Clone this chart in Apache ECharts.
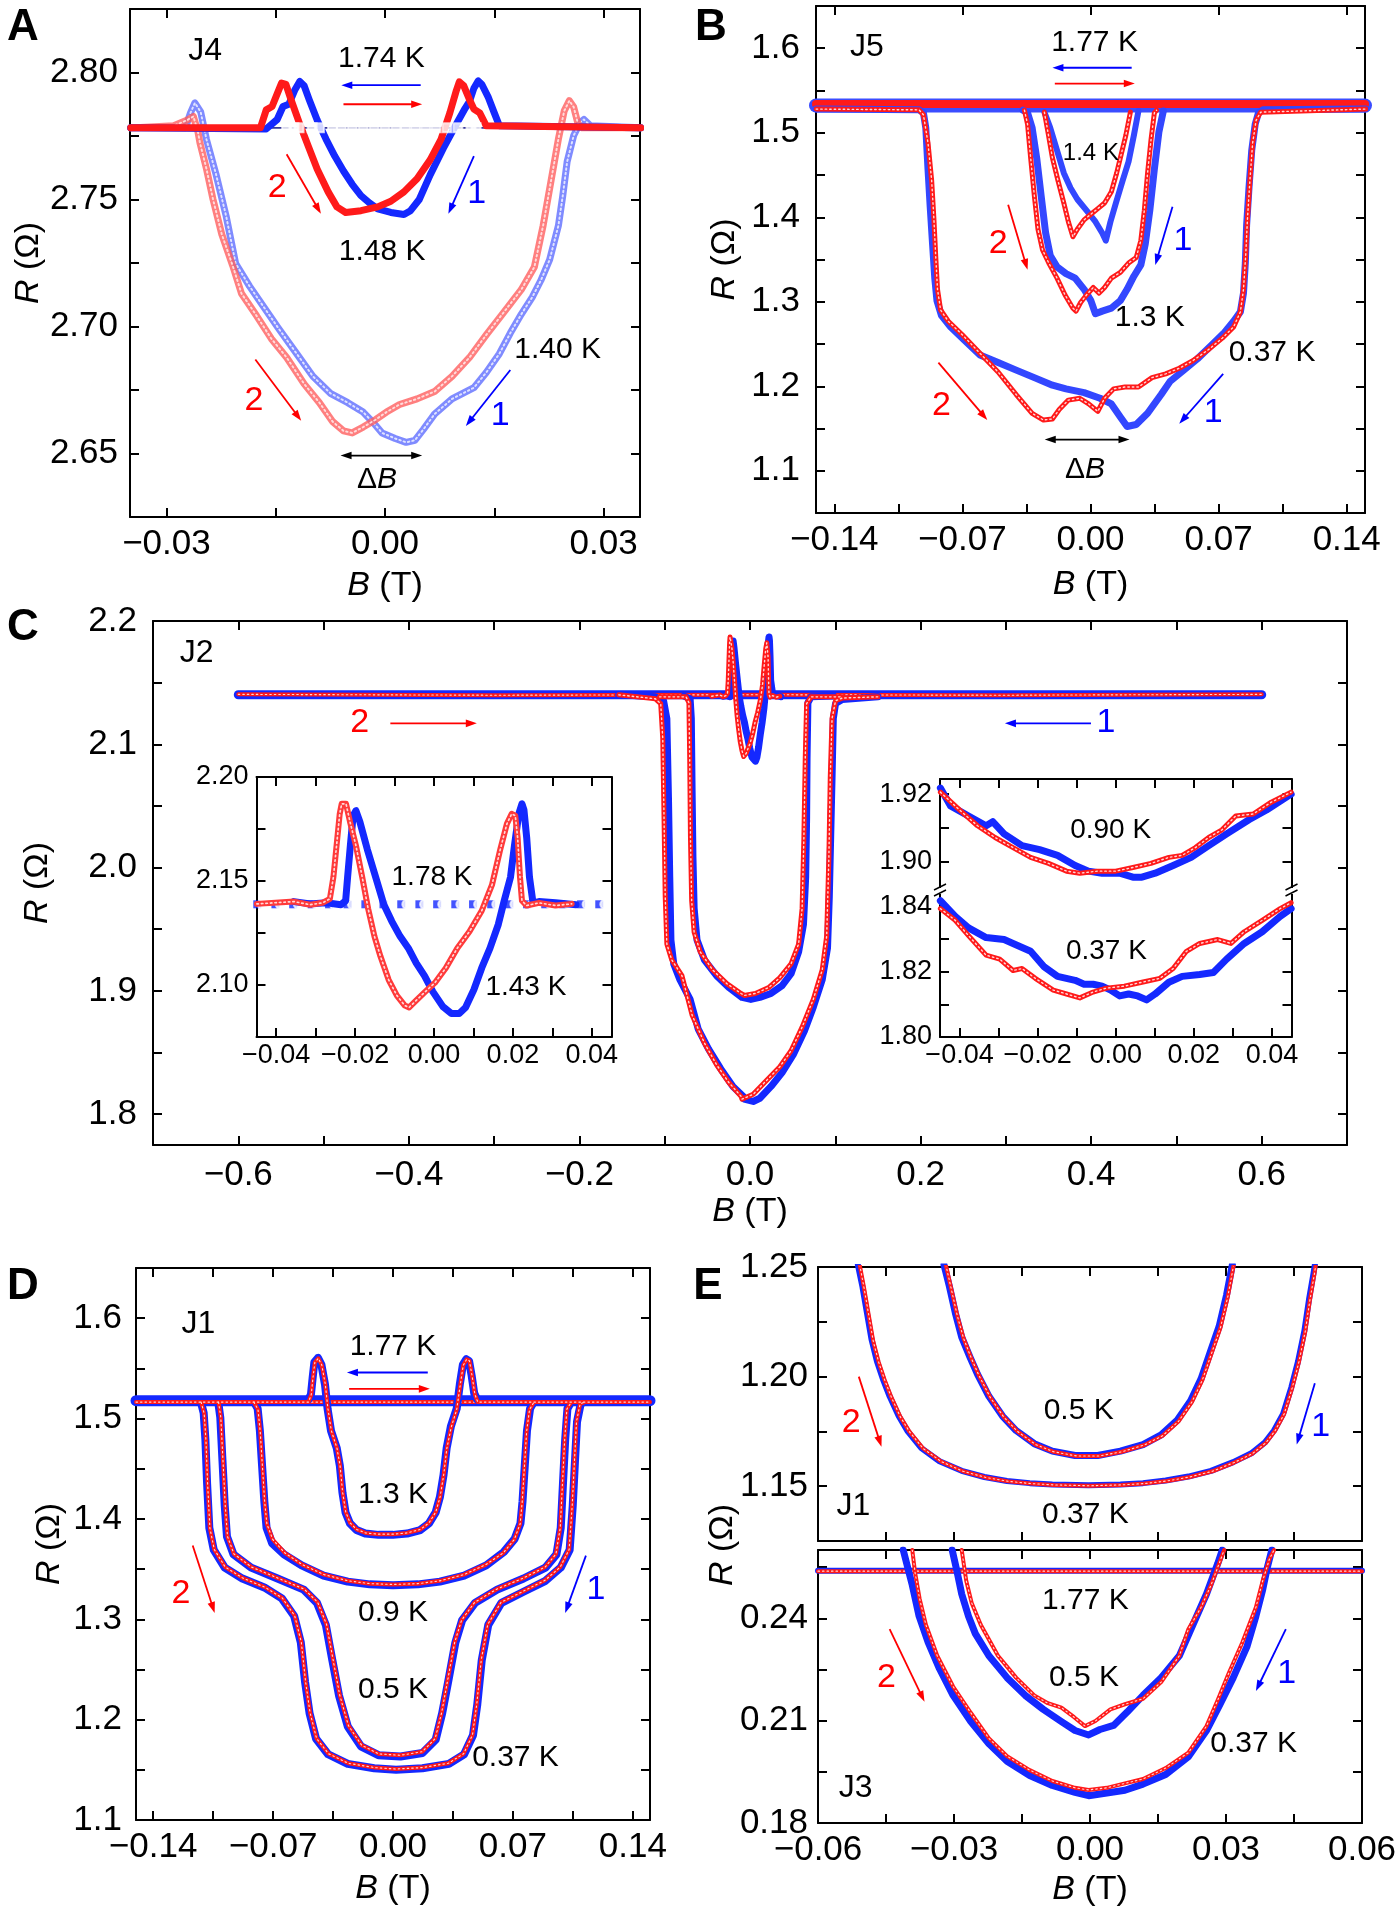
<!DOCTYPE html>
<html><head><meta charset="utf-8">
<script src="https://cdn.jsdelivr.net/npm/echarts@6.0.0/dist/echarts.min.js"></script>
<style>html,body{margin:0;padding:0;background:#fff;}#chart{width:1400px;height:1910px;}</style>
</head><body><div id="chart"></div>
<script>
// ---------------- tick values ----------------
const A_xTicks=[-0.03,-0.015,0,0.015,0.03], A_xLabels=[-0.03,0,0.03];
const A_yTicks=[2.65,2.675,2.7,2.725,2.75,2.775,2.8], A_yLabels=[2.65,2.7,2.75,2.8];
const B_xTicks=[-0.14,-0.105,-0.07,-0.035,0,0.035,0.07,0.105,0.14], B_xTopTicks=[-0.14,-0.07,0,0.07,0.14], B_xLabels=[-0.14,-0.07,0,0.07,0.14];
const B_yTicks=[1.1,1.15,1.2,1.25,1.3,1.35,1.4,1.45,1.5,1.55,1.6], B_yLabels=[1.1,1.2,1.3,1.4,1.5,1.6];
const C_xTicks=[-0.6,-0.5,-0.4,-0.3,-0.2,-0.1,0,0.1,0.2,0.3,0.4,0.5,0.6], C_xLabels=[-0.6,-0.4,-0.2,0,0.2,0.4,0.6];
const C_yTicks=[1.8,1.85,1.9,1.95,2.0,2.05,2.1,2.15,2.2], C_yLabels=[1.8,1.9,2.0,2.1,2.2];
const CI_xTicks=[-0.04,-0.03,-0.02,-0.01,0,0.01,0.02,0.03,0.04], CI_xLabels=[-0.04,-0.02,0,0.02,0.04];
const CL_yTicks=[2.1,2.125,2.15,2.175,2.2], CL_yLabels=[2.1,2.15,2.2];
const CRU_yTicks=[1.9,1.91,1.92], CRU_yLabels=[1.9,1.92];
const CRL_yTicks=[1.8,1.81,1.82,1.83,1.84], CRL_yLabels=[1.8,1.82,1.84];
const D_xTicks=[-0.14,-0.105,-0.07,-0.035,0,0.035,0.07,0.105,0.14], D_xLabels=[-0.14,-0.07,0,0.07,0.14];
const D_yTicks=[1.1,1.15,1.2,1.25,1.3,1.35,1.4,1.45,1.5,1.55,1.6], D_yLabels=[1.1,1.2,1.3,1.4,1.5,1.6];
const E_xTicks=[-0.045,-0.03,-0.015,0,0.015,0.03,0.045], E_xLabels=[-0.06,-0.03,0,0.03,0.06];
const ET_yTicks=[1.15,1.175,1.2,1.225], ET_yLabels=[1.15,1.2,1.25];
const EB_yTicks=[0.195,0.21,0.225,0.24,0.255], EB_yLabels=[0.18,0.21,0.24];

// ---------------- data: panel A (J4) ----------------
const A_base174=[[-0.035,2.7782],[0.035,2.7782]];
const A_mark174_blue=[-0.0135,-0.0118,-0.009,-0.006,-0.003,0.0,0.0028,0.0056,0.0085,0.0118];
const A_mark174_red=[-0.0125,-0.01,-0.0072,-0.0045,-0.0015,0.0015,0.0042,0.007,0.01,0.0125];
const A_b148=[[0.0351,2.7782],[0.0157,2.779],[0.015,2.7841],[0.0142,2.7901],[0.0133,2.7953],[0.0128,2.7967],[0.0122,2.7938],[0.0116,2.7886],[0.011,2.7859],[0.0098,2.7797],[0.008,2.7701],[0.0062,2.7597],[0.0047,2.75],[0.0035,2.7456],[0.0026,2.7441],[0.0008,2.7449],[-0.001,2.7463],[-0.0021,2.7486],[-0.0033,2.7515],[-0.0045,2.756],[-0.0057,2.7612],[-0.0069,2.7671],[-0.0081,2.7738],[-0.0093,2.7812],[-0.0104,2.7893],[-0.0111,2.7948],[-0.0117,2.7965],[-0.0124,2.793],[-0.0132,2.7875],[-0.014,2.7866],[-0.0148,2.7815],[-0.0163,2.7778],[-0.0349,2.7782]];
const A_r148=[[-0.0349,2.7782],[-0.0171,2.7782],[-0.0163,2.7853],[-0.0155,2.7866],[-0.0148,2.7916],[-0.0142,2.7958],[-0.0136,2.7953],[-0.0129,2.7893],[-0.0117,2.7797],[-0.0105,2.7708],[-0.0093,2.7619],[-0.0078,2.753],[-0.0066,2.7471],[-0.0054,2.7449],[-0.0033,2.7456],[-0.001,2.7471],[0.0008,2.7493],[0.0026,2.753],[0.0044,2.7582],[0.0062,2.7656],[0.0077,2.7738],[0.0089,2.7841],[0.0098,2.793],[0.0102,2.7963],[0.0108,2.7948],[0.0116,2.7893],[0.0122,2.7856],[0.013,2.7841],[0.0139,2.779],[0.0351,2.7782]];
const A_b140=[[0.0351,2.7782],[0.0282,2.779],[0.0273,2.7815],[0.0268,2.7804],[0.0259,2.7752],[0.025,2.7649],[0.0244,2.7515],[0.0238,2.7397],[0.0226,2.7263],[0.0214,2.7182],[0.0202,2.7115],[0.0187,2.7048],[0.0172,2.6974],[0.0157,2.6893],[0.0139,2.6819],[0.0122,2.6759],[0.0092,2.6715],[0.0068,2.6655],[0.0053,2.6596],[0.0041,2.6552],[0.0029,2.6544],[0.0014,2.6559],[-0.0004,2.6581],[-0.0015,2.6618],[-0.003,2.6663],[-0.0051,2.67],[-0.0075,2.6737],[-0.0099,2.6804],[-0.0123,2.69],[-0.0147,2.6996],[-0.0172,2.71],[-0.0186,2.7159],[-0.0205,2.7248],[-0.0218,2.7434],[-0.0232,2.76],[-0.0245,2.7736],[-0.0253,2.7845],[-0.0261,2.788],[-0.0267,2.7841],[-0.0274,2.7782],[-0.0349,2.7782]];
const A_r140=[[-0.0349,2.7782],[-0.029,2.779],[-0.0272,2.7812],[-0.0263,2.7827],[-0.0257,2.777],[-0.0254,2.7723],[-0.0245,2.762],[-0.0236,2.75],[-0.0224,2.7363],[-0.0209,2.7239],[-0.0197,2.713],[-0.0176,2.7041],[-0.0156,2.6952],[-0.0135,2.6878],[-0.0111,2.6774],[-0.009,2.67],[-0.0072,2.6626],[-0.0057,2.6589],[-0.0045,2.6581],[-0.003,2.6604],[-0.0013,2.6633],[0.0002,2.6663],[0.002,2.6693],[0.0044,2.6715],[0.0068,2.6744],[0.0092,2.6804],[0.0116,2.6878],[0.0139,2.6967],[0.0163,2.7056],[0.0187,2.7145],[0.0205,2.7234],[0.0217,2.7397],[0.0228,2.7575],[0.0238,2.7738],[0.0246,2.7849],[0.0253,2.7889],[0.0259,2.7864],[0.0265,2.7797],[0.0271,2.7782],[0.0351,2.7782]];

// ---------------- data: panel B (J5) ----------------
const B_baseBlue=[[-0.15,1.5323],[0.15,1.5323]];
const B_baseRed=[[-0.15,1.534],[0.15,1.534]];
const B_b037=[[0.1504,1.528],[0.0942,1.5271],[0.0918,1.5236],[0.09,1.5102],[0.0881,1.4791],[0.0866,1.4347],[0.0853,1.3902],[0.0846,1.3458],[0.0836,1.3102],[0.0819,1.288],[0.0782,1.2769],[0.0732,1.2636],[0.0658,1.248],[0.0584,1.2324],[0.051,1.2191],[0.0435,1.2058],[0.0386,1.1902],[0.0312,1.168],[0.025,1.1547],[0.02,1.1524],[0.0163,1.1636],[0.0114,1.1791],[0.0052,1.1858],[-0.0035,1.1924],[-0.0134,1.1969],[-0.0208,1.2013],[-0.0307,1.2102],[-0.0406,1.2191],[-0.0505,1.228],[-0.0604,1.2369],[-0.069,1.2547],[-0.0764,1.2702],[-0.0814,1.2836],[-0.0839,1.3013],[-0.0851,1.328],[-0.0863,1.368],[-0.0876,1.4124],[-0.0888,1.4569],[-0.09,1.5058],[-0.0913,1.5236],[-0.0937,1.5271],[-0.1499,1.528]];
const B_r037=[[-0.1499,1.528],[-0.0937,1.5271],[-0.0913,1.5213],[-0.0888,1.488],[-0.0868,1.4436],[-0.0856,1.3991],[-0.0846,1.3547],[-0.0836,1.3147],[-0.0819,1.2902],[-0.0777,1.2769],[-0.0702,1.2613],[-0.0604,1.2391],[-0.0505,1.2169],[-0.0406,1.1902],[-0.0319,1.168],[-0.0257,1.16],[-0.0208,1.1613],[-0.0171,1.1724],[-0.0121,1.1836],[-0.0059,1.1858],[-0.001,1.1791],[0.004,1.1702],[0.0077,1.1858],[0.0126,1.1969],[0.0188,1.1991],[0.0262,1.1991],[0.0336,1.2102],[0.0411,1.2147],[0.0485,1.2213],[0.0559,1.2302],[0.0646,1.2436],[0.072,1.2569],[0.0782,1.2702],[0.0819,1.288],[0.0836,1.3147],[0.0848,1.3547],[0.0858,1.3991],[0.0871,1.4436],[0.0886,1.488],[0.0905,1.5147],[0.093,1.5244],[0.1504,1.528]];
const B_b13=[[0.0398,1.5258],[0.0374,1.5013],[0.0349,1.4569],[0.0324,1.408],[0.0299,1.368],[0.0275,1.3436],[0.0237,1.3302],[0.02,1.3147],[0.0163,1.3013],[0.0114,1.2924],[0.0064,1.2889],[0.0027,1.2858],[0.0002,1.3013],[-0.0035,1.3147],[-0.0084,1.328],[-0.0134,1.3333],[-0.0183,1.3413],[-0.022,1.3547],[-0.0245,1.3813],[-0.027,1.4258],[-0.0294,1.4702],[-0.0319,1.5058],[-0.0344,1.5236],[-0.0369,1.5267]];
const B_r13=[[-0.0361,1.5267],[-0.0344,1.5102],[-0.0327,1.4702],[-0.0307,1.4258],[-0.0287,1.3858],[-0.0262,1.3613],[-0.0228,1.3458],[-0.0183,1.328],[-0.0139,1.308],[-0.0096,1.2924],[-0.0079,1.2889],[-0.0054,1.2991],[-0.0022,1.308],[0.0015,1.3169],[0.0047,1.3102],[0.0077,1.3169],[0.0114,1.328],[0.0163,1.3347],[0.0208,1.3458],[0.025,1.3524],[0.0275,1.3724],[0.0294,1.408],[0.0312,1.4524],[0.0331,1.4924],[0.0349,1.5236],[0.0361,1.5267]];
const B_b14=[[0.0262,1.5258],[0.0237,1.4969],[0.0208,1.4658],[0.0176,1.4436],[0.0139,1.4169],[0.0109,1.3947],[0.0084,1.3724],[0.0064,1.3813],[0.0027,1.3947],[-0.0022,1.408],[-0.0072,1.4213],[-0.0109,1.4347],[-0.0146,1.4524],[-0.0183,1.4791],[-0.022,1.5058],[-0.0252,1.5244]];
const B_r14=[[-0.0252,1.5244],[-0.0233,1.5013],[-0.0208,1.4702],[-0.0178,1.4436],[-0.0146,1.4169],[-0.0121,1.3947],[-0.0096,1.3769],[-0.0072,1.3858],[-0.0035,1.3969],[0.0002,1.4036],[0.004,1.4102],[0.0077,1.4169],[0.0114,1.4302],[0.0143,1.4524],[0.0168,1.4747],[0.0193,1.4969],[0.0218,1.5244]];

// ---------------- data: panel C (J2) ----------------
const C_baseBlue=[[-0.6,2.1402],[0.6,2.1402]];
const C_baseRed=[[-0.6,2.1405],[-0.3,2.1398],[0.0,2.1402],[0.3,2.1398],[0.6,2.1405]];
const C_b037=[[0.15,2.1385],[0.1082,2.1363],[0.1003,2.133],[0.0977,2.1209],[0.0962,2.0727],[0.0946,2.0246],[0.093,1.9765],[0.0909,1.9348],[0.0847,1.9091],[0.0742,1.8867],[0.0638,1.8674],[0.0507,1.8482],[0.0376,1.8337],[0.0246,1.8225],[0.0115,1.8129],[0.0037,1.8103],[-0.0068,1.8122],[-0.0081,1.8145],[-0.02,1.8225],[-0.0344,1.8369],[-0.0487,1.853],[-0.0607,1.869],[-0.0702,1.8931],[-0.0822,1.9091],[-0.0894,1.9219],[-0.0927,1.9412],[-0.0941,1.9925],[-0.0956,2.0567],[-0.0975,2.1209],[-0.1013,2.1353],[-0.1109,2.1385],[-0.1539,2.1401]];
const C_r037=[[-0.1539,2.1401],[-0.1109,2.1369],[-0.1047,2.133],[-0.1023,2.1048],[-0.1008,2.0406],[-0.0994,1.9765],[-0.0975,1.938],[-0.0918,1.9252],[-0.0798,1.9123],[-0.0678,1.8802],[-0.0535,1.8578],[-0.0392,1.8401],[-0.0248,1.8257],[-0.0105,1.8145],[-0.0094,1.8122],[0.0037,1.8161],[0.0193,1.8273],[0.035,1.8385],[0.0481,1.8514],[0.0611,1.8706],[0.0742,1.8931],[0.0847,1.9171],[0.0899,1.9444],[0.0925,2.0086],[0.0941,2.0727],[0.0962,2.1209],[0.1003,2.1353],[0.1082,2.1375],[0.15,2.1385]];
const C_b09=[[0.0977,2.1391],[0.0716,2.1385],[0.0679,2.1337],[0.0669,2.0888],[0.0664,2.0406],[0.0653,1.9925],[0.0627,1.954],[0.057,1.9316],[0.0481,1.9139],[0.0376,1.9043],[0.0246,1.8979],[0.0115,1.8947],[0.001,1.8931],[-0.0094,1.8947],[-0.0105,1.8963],[-0.0248,1.9027],[-0.0392,1.9123],[-0.0535,1.9252],[-0.0621,1.9412],[-0.0655,1.9669],[-0.0669,2.0086],[-0.0679,2.0631],[-0.0688,2.1209],[-0.0702,2.1369],[-0.0774,2.1391]];
const C_r09=[[-0.1061,2.1385],[-0.075,2.1385],[-0.0716,2.1337],[-0.0707,2.0888],[-0.0698,2.0246],[-0.0684,1.9733],[-0.0655,1.9476],[-0.0583,1.9316],[-0.044,1.9171],[-0.0272,1.9059],[-0.0105,1.8979],[-0.0068,1.8963],[0.0063,1.8979],[0.0219,1.9027],[0.035,1.9107],[0.0481,1.9219],[0.057,1.938],[0.0611,1.9669],[0.0632,2.0246],[0.0648,2.0888],[0.0664,2.133],[0.0716,2.1385],[0.1082,2.1385]];
// 1.43 K (shown in main panel and in the left inset)
const C_r143=[[-0.0449,2.139],[-0.0355,2.1401],[-0.0314,2.1386],[-0.0283,2.1395],[-0.0264,2.1414],[-0.0255,2.1519],[-0.0247,2.1671],[-0.0239,2.1823],[-0.0234,2.1871],[-0.0223,2.1871],[-0.0213,2.1785],[-0.0198,2.1671],[-0.0182,2.1519],[-0.0167,2.1367],[-0.0151,2.1234],[-0.0136,2.1139],[-0.0115,2.1025],[-0.0094,2.0949],[-0.0074,2.0901],[-0.0063,2.0892],[-0.0045,2.0926],[-0.0022,2.0968],[0.0002,2.101],[0.003,2.1082],[0.0059,2.1177],[0.009,2.1257],[0.0121,2.1357],[0.0147,2.1481],[0.0168,2.1652],[0.0185,2.1776],[0.0197,2.1823],[0.0206,2.1814],[0.0212,2.1709],[0.0218,2.1519],[0.0223,2.1405],[0.0235,2.1382],[0.0266,2.1395],[0.0308,2.1382],[0.0349,2.139]];
const C_b143=[[0.036,2.1386],[0.0308,2.1395],[0.0266,2.1401],[0.0251,2.1395],[0.0242,2.1519],[0.0235,2.1709],[0.0228,2.1842],[0.0223,2.1871],[0.0215,2.1823],[0.0204,2.1671],[0.0194,2.1519],[0.0178,2.1405],[0.0163,2.1291],[0.0142,2.1177],[0.0121,2.1082],[0.0101,2.0977],[0.008,2.0892],[0.0064,2.0863],[0.0044,2.0863],[0.0023,2.0895],[-0.0003,2.0968],[-0.0024,2.1044],[-0.0045,2.1105],[-0.0065,2.1177],[-0.0086,2.1234],[-0.0107,2.1306],[-0.0127,2.1386],[-0.0148,2.1519],[-0.0169,2.1652],[-0.0188,2.1785],[-0.0198,2.1838],[-0.0205,2.1814],[-0.0212,2.1671],[-0.0219,2.1519],[-0.0224,2.1405],[-0.0236,2.1386],[-0.0273,2.1395],[-0.0314,2.139],[-0.0355,2.1401]];
const CL_mark178_blue=[-0.0448,-0.0402,-0.0357,-0.031,-0.0266,-0.0219,-0.0174,-0.0128,-0.0083,-0.0037,0.0008,0.0054,0.0099,0.0145,0.0191,0.0236,0.0282,0.0328,0.0373,0.0419];
const CL_mark178_red=[-0.0436,-0.039,-0.0344,-0.0298,-0.0253,-0.0207,-0.0161,-0.0115,-0.0069,-0.0024,0.0022,0.0068,0.0113,0.0159,0.0205,0.025,0.0296,0.0342,0.0388,0.0433];
const CL_level178=2.1388;
const CR_b090=[[-0.0449,1.9218],[-0.0423,1.9165],[-0.0377,1.9135],[-0.0332,1.9106],[-0.0315,1.9118],[-0.0286,1.9082],[-0.024,1.9047],[-0.0195,1.9035],[-0.0149,1.9018],[-0.0104,1.8988],[-0.007,1.8971],[-0.0035,1.8965],[0.001,1.8965],[0.0044,1.8953],[0.0067,1.8953],[0.0101,1.8965],[0.0147,1.8988],[0.0193,1.9012],[0.0238,1.9047],[0.0284,1.9082],[0.0341,1.9124],[0.0386,1.9153],[0.0449,1.92]];
const CR_r090=[[-0.0449,1.9206],[-0.04,1.9153],[-0.0354,1.9106],[-0.0309,1.9071],[-0.0263,1.9041],[-0.0218,1.9012],[-0.0172,1.8994],[-0.0126,1.8971],[-0.0092,1.8965],[-0.0047,1.8971],[0.0,1.8971],[0.0044,1.8982],[0.009,1.8994],[0.0136,1.9012],[0.017,1.9018],[0.0204,1.9041],[0.0238,1.9071],[0.0272,1.9094],[0.0307,1.9135],[0.0352,1.9141],[0.0398,1.9176],[0.0449,1.9206]];
const CR_b037=[[-0.0449,1.8418],[-0.0411,1.837],[-0.0377,1.8335],[-0.0332,1.8305],[-0.0286,1.8299],[-0.0263,1.8287],[-0.0218,1.8263],[-0.0183,1.8215],[-0.0149,1.8186],[-0.0104,1.8174],[-0.0081,1.8162],[-0.0058,1.8162],[-0.0035,1.8156],[-0.0013,1.8144],[0.001,1.8126],[0.0033,1.8132],[0.0056,1.8126],[0.0079,1.8114],[0.0101,1.8132],[0.0136,1.8168],[0.017,1.8186],[0.0215,1.8192],[0.025,1.8198],[0.0284,1.8239],[0.0329,1.8287],[0.0375,1.8323],[0.0421,1.837],[0.0449,1.8394]];
const CR_r037=[[-0.0449,1.8394],[-0.0411,1.8358],[-0.0377,1.8311],[-0.0332,1.8251],[-0.0297,1.8239],[-0.0263,1.8204],[-0.024,1.821],[-0.0206,1.818],[-0.016,1.8144],[-0.0126,1.8132],[-0.0092,1.812],[-0.0058,1.8138],[-0.0024,1.815],[0.0022,1.8156],[0.0067,1.8168],[0.0113,1.818],[0.0147,1.821],[0.0181,1.8263],[0.0215,1.8287],[0.0261,1.8299],[0.0295,1.8287],[0.0329,1.8323],[0.0375,1.8358],[0.0421,1.8394],[0.0449,1.8412]];

// ---------------- data: panel D (J1) ----------------
const D_baseBlue=[[-0.15,1.5178],[0.15,1.5178]];
const D_baseRed=[[-0.15,1.5164],[0.15,1.5164]];
const D_b13=[[0.15,1.5186],[0.0492,1.5186],[0.0474,1.5252],[0.0459,1.5428],[0.0444,1.5573],[0.0428,1.5591],[0.0408,1.5538],[0.039,1.534],[0.0372,1.5099],[0.0338,1.4923],[0.0313,1.4703],[0.0295,1.4439],[0.0274,1.4219],[0.0249,1.4065],[0.021,1.3955],[0.0159,1.3889],[0.0082,1.3854],[0.0,1.3841],[-0.0085,1.3841],[-0.0162,1.3854],[-0.0213,1.3889],[-0.0251,1.3955],[-0.0277,1.4065],[-0.0295,1.4263],[-0.031,1.4527],[-0.0328,1.4703],[-0.0362,1.4879],[-0.0382,1.5099],[-0.0397,1.534],[-0.0418,1.5538],[-0.0438,1.5604],[-0.0459,1.556],[-0.0469,1.5406],[-0.0479,1.5239],[-0.0495,1.5186],[-0.15,1.5186]];
const D_r13=[[-0.15,1.5164],[-0.0493,1.5164],[-0.0477,1.524],[-0.0467,1.541],[-0.0456,1.556],[-0.0436,1.56],[-0.0416,1.5535],[-0.0395,1.534],[-0.038,1.51],[-0.036,1.488],[-0.0327,1.4705],[-0.0309,1.453],[-0.0294,1.4265],[-0.0276,1.407],[-0.025,1.396],[-0.0212,1.3895],[-0.016,1.386],[-0.0085,1.3848],[0.0,1.3848],[0.008,1.386],[0.016,1.3895],[0.021,1.396],[0.025,1.407],[0.0275,1.422],[0.0296,1.444],[0.0314,1.47],[0.034,1.4915],[0.0372,1.509],[0.0392,1.533],[0.041,1.553],[0.043,1.559],[0.0446,1.5575],[0.0462,1.542],[0.0478,1.524],[0.0495,1.5164],[0.15,1.5164]];
const D_b09=[[0.0826,1.5178],[0.08,1.5099],[0.0782,1.4879],[0.0769,1.4527],[0.0756,1.4175],[0.0744,1.3955],[0.071,1.3801],[0.0646,1.3669],[0.0544,1.3537],[0.0415,1.3436],[0.0274,1.3375],[0.0146,1.3348],[0.0,1.334],[-0.0136,1.3348],[-0.0264,1.3375],[-0.0405,1.3436],[-0.0533,1.3537],[-0.0636,1.3647],[-0.0705,1.3757],[-0.0738,1.3911],[-0.0751,1.4175],[-0.0764,1.4527],[-0.0777,1.4879],[-0.079,1.5099],[-0.0815,1.5178]];
const D_r09=[[-0.0812,1.5164],[-0.0788,1.509],[-0.0775,1.487],[-0.0762,1.452],[-0.0749,1.417],[-0.0736,1.395],[-0.0702,1.3795],[-0.0632,1.3662],[-0.053,1.3545],[-0.0402,1.3445],[-0.0262,1.3383],[-0.0134,1.3355],[0.0,1.3347],[0.0146,1.3355],[0.0274,1.3383],[0.0414,1.3445],[0.0542,1.3545],[0.0644,1.3662],[0.0708,1.3795],[0.0742,1.395],[0.0754,1.417],[0.0767,1.452],[0.078,1.487],[0.0797,1.509],[0.0823,1.5164]];
const D_b05=[[-0.1021,1.5178],[-0.1008,1.5011],[-0.0995,1.4571],[-0.0982,1.4131],[-0.0969,1.3823],[-0.0931,1.3647],[-0.0828,1.3515],[-0.0674,1.3406],[-0.0521,1.3296],[-0.0444,1.3164],[-0.0392,1.2944],[-0.0354,1.2592],[-0.0315,1.224],[-0.0264,1.1932],[-0.0187,1.1734],[-0.0085,1.1646],[0.0044,1.1633],[0.0172,1.1668],[0.0249,1.18],[0.0287,1.2064],[0.0326,1.2416],[0.0364,1.2768],[0.0403,1.2988],[0.0479,1.3164],[0.0608,1.3296],[0.0762,1.3406],[0.089,1.3515],[0.0954,1.3647],[0.0979,1.3911],[0.0992,1.4351],[0.1005,1.4791],[0.1018,1.5098],[0.1044,1.5178]];
const D_r05=[[-0.1018,1.5164],[-0.1005,1.501],[-0.0992,1.457],[-0.0979,1.413],[-0.0966,1.3825],[-0.0928,1.365],[-0.0825,1.352],[-0.0672,1.341],[-0.0518,1.33],[-0.044,1.317],[-0.0388,1.295],[-0.035,1.26],[-0.0311,1.2245],[-0.026,1.194],[-0.0183,1.1745],[-0.0082,1.1658],[0.0044,1.1645],[0.017,1.168],[0.0246,1.181],[0.0284,1.207],[0.0322,1.242],[0.036,1.277],[0.04,1.299],[0.0476,1.3168],[0.0605,1.33],[0.076,1.341],[0.0888,1.352],[0.0951,1.365],[0.0976,1.391],[0.0989,1.435],[0.1002,1.479],[0.1015,1.5095],[0.1041,1.5164]];
const D_b037=[[-0.1123,1.5178],[-0.1105,1.5055],[-0.1095,1.4791],[-0.1085,1.4351],[-0.1072,1.3911],[-0.1046,1.3691],[-0.0982,1.3515],[-0.0879,1.3406],[-0.0751,1.3317],[-0.0649,1.3208],[-0.0577,1.3032],[-0.0538,1.2768],[-0.0513,1.2372],[-0.0487,1.2064],[-0.0449,1.1809],[-0.0379,1.1655],[-0.0264,1.1559],[-0.011,1.1515],[0.0018,1.1501],[0.0172,1.1515],[0.0326,1.1559],[0.0415,1.1655],[0.0467,1.1844],[0.0492,1.2152],[0.0518,1.2592],[0.0556,1.2944],[0.0633,1.3164],[0.0762,1.3274],[0.089,1.3383],[0.0979,1.3515],[0.1031,1.3691],[0.1049,1.4131],[0.1062,1.4571],[0.1074,1.4967],[0.1095,1.5142],[0.1121,1.5178]];
const D_r037=[[-0.112,1.5164],[-0.1102,1.505],[-0.1092,1.479],[-0.1082,1.435],[-0.1069,1.391],[-0.1043,1.3695],[-0.0979,1.352],[-0.0876,1.341],[-0.0748,1.332],[-0.0646,1.3212],[-0.0574,1.3036],[-0.0535,1.277],[-0.051,1.2375],[-0.0484,1.2068],[-0.0446,1.1812],[-0.0376,1.166],[-0.0261,1.1565],[-0.0107,1.1522],[0.0018,1.1508],[0.0169,1.1522],[0.0323,1.1565],[0.0412,1.166],[0.0464,1.1848],[0.0489,1.2155],[0.0515,1.2595],[0.0553,1.2948],[0.063,1.3168],[0.0759,1.3278],[0.0887,1.3388],[0.0976,1.352],[0.1028,1.3695],[0.1046,1.4135],[0.1059,1.4575],[0.1071,1.497],[0.1092,1.5145],[0.1118,1.5164]];

// ---------------- data: panel E (J1 top, J3 bottom) ----------------
const ET_b037=[[-0.0512,1.251],[-0.0502,1.241],[-0.0492,1.229],[-0.0482,1.217],[-0.047,1.207],[-0.0457,1.199],[-0.0442,1.191],[-0.0422,1.182],[-0.0402,1.175],[-0.0372,1.1674],[-0.0332,1.1614],[-0.0283,1.157],[-0.0233,1.1542],[-0.0183,1.1524],[-0.0133,1.1514],[-0.0083,1.1508],[-0.0003,1.1504],[0.0067,1.1508],[0.0117,1.1514],[0.0167,1.1526],[0.0217,1.1544],[0.0267,1.157],[0.0316,1.161],[0.0356,1.165],[0.0386,1.17],[0.0406,1.1754],[0.0426,1.183],[0.0444,1.195],[0.0459,1.207],[0.0473,1.221],[0.0483,1.235],[0.0493,1.247],[0.0496,1.251]];
const ET_r037=[[-0.0508,1.251],[-0.0498,1.24],[-0.0488,1.228],[-0.0478,1.216],[-0.0466,1.2065],[-0.0453,1.1985],[-0.0438,1.1905],[-0.0418,1.1815],[-0.0398,1.1748],[-0.0368,1.1672],[-0.0328,1.1612],[-0.028,1.1568],[-0.023,1.154],[-0.018,1.1522],[-0.013,1.1512],[-0.008,1.1506],[0.0,1.1502],[0.007,1.1506],[0.012,1.1512],[0.017,1.1524],[0.022,1.1542],[0.027,1.1568],[0.0318,1.1608],[0.0358,1.1648],[0.0388,1.1698],[0.0408,1.1752],[0.0428,1.1828],[0.0446,1.1948],[0.0461,1.2068],[0.0475,1.2208],[0.0485,1.2348],[0.0495,1.2468],[0.0498,1.251]];
const ET_b05=[[-0.0322,1.251],[-0.031,1.241],[-0.0297,1.229],[-0.0283,1.218],[-0.0265,1.209],[-0.0248,1.201],[-0.0223,1.191],[-0.0193,1.182],[-0.0163,1.1754],[-0.0123,1.1694],[-0.0083,1.166],[-0.0033,1.164],[0.0017,1.164],[0.0067,1.166],[0.0117,1.169],[0.0157,1.1734],[0.0192,1.18],[0.0222,1.189],[0.0245,1.199],[0.0265,1.211],[0.0285,1.223],[0.0301,1.237],[0.0314,1.251]];
const ET_r05=[[-0.0318,1.251],[-0.0306,1.24],[-0.0293,1.228],[-0.0279,1.2175],[-0.0262,1.2085],[-0.0245,1.2005],[-0.022,1.1905],[-0.019,1.1815],[-0.016,1.175],[-0.012,1.169],[-0.008,1.1657],[-0.003,1.1638],[0.002,1.1638],[0.007,1.1657],[0.012,1.1688],[0.016,1.173],[0.0195,1.1795],[0.0225,1.1885],[0.0248,1.1985],[0.0268,1.2105],[0.0288,1.2225],[0.0304,1.2365],[0.0317,1.251]];
const EB_baseBlue=[[-0.06,0.2539],[0.06,0.2539]];
const EB_baseRed=[[-0.06,0.2538],[0.06,0.2538]];
const EB_b05=[[-0.0304,0.26],[-0.0293,0.2535],[-0.0283,0.2471],[-0.0268,0.2406],[-0.0253,0.2355],[-0.0223,0.229],[-0.0183,0.2226],[-0.0143,0.2174],[-0.0103,0.2133],[-0.0063,0.2097],[-0.0033,0.2071],[-0.0003,0.2058],[0.0022,0.2074],[0.0052,0.2086],[0.0082,0.2125],[0.0117,0.2174],[0.0157,0.2226],[0.0197,0.229],[0.0227,0.2381],[0.0257,0.2471],[0.0282,0.2561],[0.0292,0.26]];
const EB_r05=[[-0.0283,0.26],[-0.0273,0.251],[-0.0261,0.2445],[-0.0241,0.2381],[-0.0203,0.229],[-0.0163,0.2226],[-0.0123,0.2174],[-0.0093,0.2151],[-0.0063,0.2138],[-0.0035,0.211],[-0.0011,0.2084],[0.0012,0.2099],[0.0045,0.2133],[0.0077,0.2148],[0.0117,0.2164],[0.0157,0.2213],[0.0197,0.229],[0.0217,0.2368],[0.0245,0.2432],[0.0267,0.2497],[0.0285,0.2561],[0.0296,0.26]];
const EB_b037=[[-0.0412,0.26],[-0.0402,0.2548],[-0.0392,0.2497],[-0.0377,0.2406],[-0.0357,0.2329],[-0.0332,0.2252],[-0.0302,0.2174],[-0.0263,0.2097],[-0.0223,0.2032],[-0.0183,0.1981],[-0.0133,0.1939],[-0.0083,0.191],[-0.0033,0.189],[-0.0003,0.188],[0.0037,0.1888],[0.0077,0.1896],[0.0117,0.1914],[0.0167,0.1942],[0.0217,0.1994],[0.0257,0.2071],[0.0287,0.2148],[0.0316,0.2226],[0.0346,0.2316],[0.0366,0.2406],[0.0381,0.2484],[0.0391,0.2548],[0.0401,0.26]];
const EB_r037=[[-0.0392,0.26],[-0.0386,0.2535],[-0.0376,0.2458],[-0.0362,0.2381],[-0.0337,0.229],[-0.0302,0.22],[-0.0263,0.2123],[-0.0223,0.2048],[-0.0183,0.1996],[-0.0133,0.1955],[-0.0083,0.1923],[-0.0033,0.1903],[-0.0003,0.1897],[0.0037,0.1903],[0.0077,0.1916],[0.0117,0.1929],[0.0167,0.1961],[0.0217,0.2006],[0.0257,0.2084],[0.0282,0.2161],[0.0306,0.2239],[0.0336,0.2329],[0.0366,0.2432],[0.0381,0.251],[0.0396,0.2574],[0.0406,0.26]];

// ---------------- annotations (data coordinates per panel) ----------------
const TEXTS=[
 [0,-0.0247,2.8085,'J4','#000',32],[0,-0.0005,2.8056,'1.74 K','#000',30],[0,-0.0004,2.7296,'1.48 K','#000',30],[0,0.0237,2.6907,'1.40 K','#000',30],
 [0,-0.0148,2.7545,'2','#f00',34],[0,0.0126,2.7523,'1','#00f',34],[0,-0.018,2.6707,'2','#f00',34],[0,0.0158,2.6648,'1','#00f',34],[0,-0.0011,2.6396,'ΔB','#000',30],
 [1,-0.1222,1.6013,'J5','#000',32],[1,0.0022,1.607,'1.77 K','#000',30],[1,0.0002,1.4756,'1.4 K','#000',24],[1,-0.0505,1.3689,'2','#f00',34],[1,0.0505,1.3724,'1','#00f',34],
 [1,0.0324,1.2813,'1.3 K','#000',30],[1,0.0992,1.2391,'0.37 K','#000',30],[1,-0.0814,1.1769,'2','#f00',34],[1,0.067,1.1689,'1','#00f',34],[1,-0.003,1.1013,'ΔB','#000',30],
 [2,-0.6488,2.1738,'J2','#000',32],[2,-0.4575,2.1176,'2','#f00',34],[2,0.4175,2.1176,'1','#00f',34],
 [3,-0.0005,2.1519,'1.78 K','#000',28],[3,0.0233,2.0987,'1.43 K','#000',28],
 [4,-0.0013,1.9094,'0.90 K','#000',28],[5,-0.0024,1.8263,'0.37 K','#000',28],
 [6,-0.1136,1.5943,'J1','#000',32],[6,0,1.5714,'1.77 K','#000',30],[6,0,1.4241,'1.3 K','#000',30],[6,0,1.3062,'0.9 K','#000',30],[6,0,1.2293,'0.5 K','#000',30],[6,0.0715,1.1625,'0.37 K','#000',30],
 [6,-0.1238,1.3252,'2','#f00',34],[6,0.1185,1.3296,'1','#00f',34],
 [7,-0.0527,1.179,'2','#f00',34],[7,0.0509,1.177,'1','#00f',34],[7,-0.0025,1.1846,'0.5 K','#000',30],[7,-0.001,1.137,'0.37 K','#000',30],[7,-0.0522,1.141,'J1','#000',32],
 [8,-0.001,0.2452,'1.77 K','#000',30],[8,-0.0013,0.2226,'0.5 K','#000',30],[8,0.0361,0.2032,'0.37 K','#000',30],[8,-0.0449,0.2226,'2','#f00',34],[8,0.0434,0.2239,'1','#00f',34],[8,-0.0517,0.1903,'J3','#000',32]
];
const ARROWS=[
 [0,0.0049,2.795,-0.006,2.795,'#00f',0],[0,-0.0057,2.7875,0.0051,2.7875,'#f00',0],[0,-0.0135,2.7678,-0.0088,2.7444,'#f00',0],[0,0.0122,2.7671,0.0087,2.7444,'#00f',0],
 [0,-0.0178,2.687,-0.0115,2.6629,'#f00',0],[0,0.0172,2.6829,0.0111,2.6608,'#00f',0],[0,-0.0061,2.6492,0.0051,2.6492,'#000',1],
 [1,0.0225,1.5769,-0.0208,1.5769,'#00f',0],[1,-0.0195,1.5582,0.0242,1.5582,'#f00',0],[1,-0.045,1.4147,-0.0344,1.3378,'#f00',0],[1,0.0448,1.4124,0.0354,1.3436,'#00f',0],
 [1,-0.0831,1.228,-0.0564,1.16,'#f00',0],[1,0.0725,1.2147,0.0485,1.1556,'#00f',0],[1,-0.025,1.1369,0.0213,1.1369,'#000',1],
 [2,-0.4217,2.117,-0.3203,2.117,'#f00',0],[2,0.3998,2.117,0.2989,2.117,'#00f',0],
 [6,0.0203,1.5459,-0.0269,1.5459,'#00f',0],[6,-0.0256,1.5296,0.0215,1.5296,'#f00',0],[6,-0.1169,1.3735,-0.1041,1.3063,'#f00',0],[6,0.1126,1.3634,0.1005,1.3063,'#00f',0],
 [7,-0.051,1.2,-0.046,1.168,'#f00',0],[7,0.0496,1.197,0.0456,1.169,'#00f',0],
 [8,-0.0442,0.2368,-0.0365,0.2155,'#f00',0],[8,0.0432,0.2368,0.0366,0.2187,'#00f',0]
];

// ---------------- build chart ----------------
const FONT="'Liberation Sans', Arial, Helvetica, sans-serif";
const BLUE='#1428ff', RED='#ff1a1a';
const TICKFS=35;
const chart=echarts.init(document.getElementById('chart'),null,{renderer:'canvas',width:1400,height:1910});
const fmt=d=>v=>(Math.abs(v)<1e-9?0:v).toFixed(d).replace('-','\u2212');
const grids=[],xAxes=[],yAxes=[],series=[];
const nameRich=(fs)=>({fontSize:fs,fontFamily:FONT,color:'#000',rich:{i:{fontStyle:'italic',fontSize:fs,fontFamily:FONT,color:'#000'}}});

function axis(gi,pos,min,max,ticks,labels,dec,o){
  o=o||{};
  return {type:'value',gridIndex:gi,position:pos,min:min,max:max,scale:false,
    axisLine:{show:o.line!==false,onZero:false,lineStyle:{color:'#000',width:2}},
    axisTick:{show:ticks.length>0,inside:true,length:o.tl||9,customValues:ticks,lineStyle:{color:'#000',width:2}},
    axisLabel:{show:!!labels,customValues:labels||[],formatter:fmt(dec),fontSize:o.fs||TICKFS,fontFamily:FONT,color:'#000',margin:o.margin||10,showMinLabel:true,showMaxLabel:true,hideOverlap:false},
    splitLine:{show:false},minorTick:{show:false},axisPointer:{show:false},
    name:o.name||'',nameLocation:'middle',nameGap:o.nameGap||40,nameRotate:o.nameRotate,nameTextStyle:nameRich(o.nfs||34)};
}
function panel(box,xs,ys){
  const gi=grids.length;
  grids.push({left:box[0],top:box[1],width:box[2],height:box[3],containLabel:false,show:true,backgroundColor:'#fff',borderWidth:0});
  xAxes.push(axis(gi,'bottom',xs.min,xs.max,xs.ticks,xs.labels,xs.dec,{fs:xs.fs,margin:xs.margin,name:xs.name,nameGap:xs.nameGap,line:xs.bottomLine}));
  xAxes.push(axis(gi,'top',xs.min,xs.max,xs.topTicks||xs.ticks,null,xs.dec,{line:xs.topLine}));
  yAxes.push(axis(gi,'left',ys.min,ys.max,ys.ticks,ys.labels,ys.dec,{fs:ys.fs,margin:ys.margin,name:ys.name,nameGap:ys.nameGap,nameRotate:90}));
  yAxes.push(axis(gi,'right',ys.min,ys.max,ys.ticks,null,ys.dec,{}));
  return gi;
}
function L(gi,data,color,width,z){
  series.push({type:'line',xAxisIndex:2*gi,yAxisIndex:2*gi,data:data,symbol:'none',showSymbol:false,silent:true,animation:false,clip:true,z:z||2,
    lineStyle:{color:color,width:width,cap:'round',join:'round'}});
}
function H(gi,data,color,width,z,inner){ // hollow-marker look
  L(gi,data,color,width,z||3);
  series.push({type:'line',xAxisIndex:2*gi,yAxisIndex:2*gi,data:data,symbol:'none',showSymbol:false,silent:true,animation:false,clip:true,z:(z||3)+1,
    lineStyle:{color:inner||'rgba(255,225,225,0.95)',width:Math.max(1,width*0.28),type:[1.5,3],cap:'round',join:'round'}});
}
function M(gi,xs,level,symbol,size,color,filled,z){
  series.push({type:'scatter',xAxisIndex:2*gi,yAxisIndex:2*gi,data:xs.map(b=>[b,level]),symbol:symbol,symbolSize:size,silent:true,animation:false,z:z||5,
    itemStyle:filled?{color:color}:{color:'rgba(255,255,255,0.9)',borderColor:color,borderWidth:1.5}});
}
const yName='{i|R} (Ω)', xName='{i|B} (T)';
// A
const gA=panel([130,9,510,508],{min:-0.035,max:0.035,ticks:A_xTicks,labels:A_xLabels,dec:2,name:xName,nameGap:52},{min:2.625,max:2.825,ticks:A_yTicks,labels:A_yLabels,dec:2,name:yName,nameGap:84,margin:12});
// B
const gB=panel([816,6,549,507],{min:-0.15,max:0.15,ticks:B_xTicks,topTicks:B_xTopTicks,labels:B_xLabels,dec:2,name:xName,nameGap:55},{min:1.05,max:1.65,ticks:B_yTicks,labels:B_yLabels,dec:1,name:yName,nameGap:74,margin:16});
// C main
const gC=panel([153,621,1194,524],{min:-0.7,max:0.7,ticks:C_xTicks,labels:C_xLabels,dec:1,name:xName,nameGap:50,margin:13},{min:1.775,max:2.2,ticks:C_yTicks,labels:C_yLabels,dec:1,name:yName,nameGap:98,margin:16});
// C insets
const gCL=panel([256.5,777,355,260],{min:-0.045,max:0.045,ticks:CI_xTicks,labels:CI_xLabels,dec:2,fs:27,margin:5},{min:2.075,max:2.2,ticks:CL_yTicks,labels:CL_yLabels,dec:2,fs:27,margin:8});
const gCRU=panel([940,779,351.5,112],{min:-0.045,max:0.045,ticks:[],labels:null,dec:2,bottomLine:false,topTicks:CI_xTicks},{min:1.8912,max:1.9245,ticks:CRU_yTicks,labels:CRU_yLabels,dec:2,fs:27,margin:8});
const gCRL=panel([940,891,351.5,146],{min:-0.045,max:0.045,ticks:CI_xTicks,labels:CI_xLabels,dec:2,fs:27,margin:5,topLine:false,topTicks:[]},{min:1.8,max:1.8448,ticks:CRL_yTicks,labels:CRL_yLabels,dec:2,fs:27,margin:8});
// D
const gD=panel([136,1268,514,552],{min:-0.15,max:0.15,ticks:D_xTicks,labels:D_xLabels,dec:2,name:xName,nameGap:52},{min:1.1,max:1.65,ticks:D_yTicks,labels:D_yLabels,dec:1,name:yName,nameGap:69,margin:14});
// E
const gET=panel([818,1267,544,274],{min:-0.06,max:0.06,ticks:E_xTicks,labels:null,dec:2},{min:1.125,max:1.25,ticks:ET_yTicks,labels:ET_yLabels,dec:2,margin:10});
const gEB=panel([818,1550,544,273],{min:-0.06,max:0.06,ticks:E_xTicks,labels:E_xLabels,dec:2,name:xName,nameGap:50},{min:0.18,max:0.26,ticks:EB_yTicks,labels:EB_yLabels,dec:2,margin:10});

// ---- series: A
L(gA,A_base174,'#3a3a9a',1.6,2);
H(gA,A_b140,'rgba(95,110,255,0.8)',7,2,'rgba(230,233,255,0.95)');
H(gA,A_r140,'rgba(255,95,95,0.8)',7,3);
L(gA,A_b148,BLUE,7,5); L(gA,A_r148,RED,7,6);
M(gA,A_mark174_blue,2.7782,'emptyRect',9,'#3040ff',false,7);
M(gA,A_mark174_red,2.7782,'emptyRect',9,'#ff3030',false,7);
// ---- B
L(gB,B_baseBlue,'#3b4dff',14,2); L(gB,B_baseRed,RED,8,3);
L(gB,B_b037,'#3347ff',7,3); H(gB,B_r037,RED,5,4);
L(gB,B_b13,'#3347ff',7,3); H(gB,B_r13,RED,5,4);
L(gB,B_b14,'#3347ff',6,3); H(gB,B_r14,RED,5,4);
// ---- C main
L(gC,C_baseBlue,BLUE,9,2); H(gC,C_baseRed,RED,4,3);
L(gC,C_b037,BLUE,7,4); H(gC,C_r037,RED,5,5);
L(gC,C_b09,BLUE,7,4); H(gC,C_r09,RED,5,5);
L(gC,C_b143,BLUE,7,4); H(gC,C_r143,RED,5,5);
// ---- C left inset
M(gCL,CL_mark178_blue,CL_level178,'rect',8,BLUE,true,3);
M(gCL,CL_mark178_red,CL_level178,'emptyCircle',9,RED,false,3);
L(gCL,C_b143,BLUE,7,4); H(gCL,C_r143,'#ff3a3a',6,5);
// ---- C right inset
L(gCRU,CR_b090,BLUE,7,4); H(gCRU,CR_r090,RED,5,5);
L(gCRL,CR_b037,BLUE,7,4); H(gCRL,CR_r037,RED,5,5);
// ---- D
L(gD,D_baseBlue,BLUE,11,2); H(gD,D_baseRed,RED,4,3);
L(gD,D_b13,BLUE,8,4); H(gD,D_r13,RED,4,5);
L(gD,D_b09,BLUE,8,4); H(gD,D_r09,RED,4,5);
L(gD,D_b05,BLUE,8,4); H(gD,D_r05,RED,4,5);
L(gD,D_b037,BLUE,8,4); H(gD,D_r037,RED,4,5);
// ---- E
L(gET,ET_b037,BLUE,6,4); H(gET,ET_r037,RED,4,5);
L(gET,ET_b05,BLUE,7,4); H(gET,ET_r05,RED,4,5);
L(gEB,EB_baseBlue,BLUE,6,2); H(gEB,EB_baseRed,RED,4,3);
L(gEB,EB_b05,BLUE,7,4); H(gEB,EB_r05,RED,4,5);
L(gEB,EB_b037,BLUE,7,4); H(gEB,EB_r037,RED,4,5);

chart.setOption({animation:false,backgroundColor:'#fff',grid:grids,xAxis:xAxes,yAxis:yAxes,series:series});

// ---------------- overlay text / arrows ----------------
const G=[];
const P=(gi,b,r)=>chart.convertToPixel({xAxisIndex:2*gi,yAxisIndex:2*gi},[b,r]);
function txt(x,y,text,color,fs,extra){
  const st={text:text,fill:color,fontSize:fs,fontFamily:FONT,textAlign:'center',textVerticalAlign:'middle',align:'center',verticalAlign:'middle'};
  if(extra) Object.assign(st,extra);
  return {type:'text',x:x,y:y,z:100,silent:true,style:st};
}
TEXTS.forEach(t=>{
  const p=P(t[0],t[1],t[2]);
  if(t[3]==='ΔB'){
    G.push(txt(p[0],p[1],'Δ{i|B}',t[4],t[5],{rich:{i:{fontStyle:'italic',fontSize:t[5],fontFamily:FONT,fill:t[4]}}}));
  } else G.push(txt(p[0],p[1],t[3],t[4],t[5]));
});
function head(tip,ux,uy,color){
  const Hh=11,W=3.8,bx=tip[0]-ux*Hh,by=tip[1]-uy*Hh,nx=-uy,ny=ux;
  return {type:'polygon',z:100,silent:true,shape:{points:[[tip[0],tip[1]],[bx+nx*W,by+ny*W],[bx-nx*W,by-ny*W]]},style:{fill:color}};
}
ARROWS.forEach(a=>{
  const p1=P(a[0],a[1],a[2]),p2=P(a[0],a[3],a[4]);
  const dx=p2[0]-p1[0],dy=p2[1]-p1[1],len=Math.hypot(dx,dy),ux=dx/len,uy=dy/len;
  const s=a[6]?[p1[0]+ux*8,p1[1]+uy*8]:p1, e=[p2[0]-ux*8,p2[1]-uy*8];
  G.push({type:'line',z:100,silent:true,shape:{x1:s[0],y1:s[1],x2:e[0],y2:e[1]},style:{stroke:a[5],lineWidth:1.8}});
  G.push(head(p2,ux,uy,a[5]));
  if(a[6]) G.push(head(p1,-ux,-uy,a[5]));
});
// panel letters
[['A',23,28],['B',711,28],['C',23,628],['D',23,1287],['E',708,1287]].forEach(l=>G.push(txt(l[1],l[2],l[0],'#000',44,{fontWeight:'bold'})));
// shared y title for panel E
G.push(Object.assign(txt(723,1545,'{i|R} (Ω)','#000',34,{rich:{i:{fontStyle:'italic',fontSize:34,fontFamily:FONT,fill:'#000'}}}),{rotation:Math.PI/2}));
// axis break marks on right inset
[P(gCRU,-0.045,1.8912),P(gCRU,0.045,1.8912)].forEach(p=>{
  G.push({type:'rect',z:101,silent:true,shape:{x:p[0]-5,y:p[1]-3,width:10,height:6},style:{fill:'#fff'}});
  G.push({type:'line',z:102,silent:true,shape:{x1:p[0]-6,y1:p[1]-1,x2:p[0]+6,y2:p[1]-7},style:{stroke:'#000',lineWidth:1.5}});
  G.push({type:'line',z:102,silent:true,shape:{x1:p[0]-6,y1:p[1]+5,x2:p[0]+6,y2:p[1]-1},style:{stroke:'#000',lineWidth:1.5}});
});
chart.setOption({graphic:G});
</script></body></html>
